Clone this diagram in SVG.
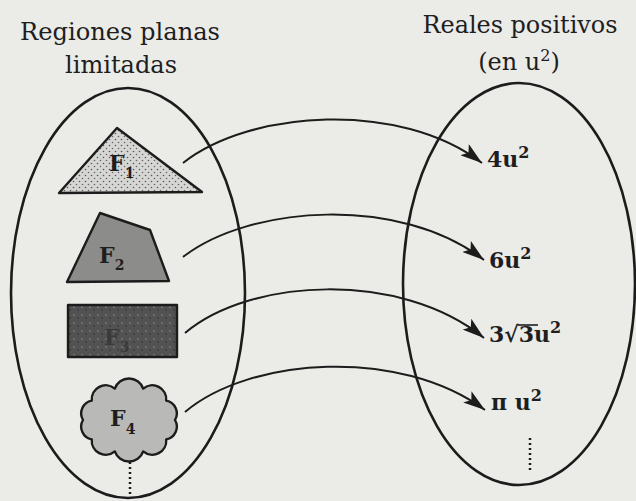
<svg xmlns="http://www.w3.org/2000/svg" width="636" height="501" viewBox="0 0 636 501">
  <style>
    .title { font-family: "DejaVu Serif", "Liberation Serif", serif; font-size: 24px; fill: #1e1e1e; }
    .val { font-family: "DejaVu Serif", "Liberation Serif", serif; font-size: 22px; font-weight: bold; fill: #1e1e1e; }
    .flab { font-family: "DejaVu Serif", "Liberation Serif", serif; font-size: 22px; font-weight: bold; fill: #1e1e1e; }
    .set { fill: none; stroke: #1c1c1c; stroke-width: 2.6; }
    .shape { stroke: #1c1c1c; stroke-width: 2.4; stroke-linejoin: round; }
    .arrow { fill: none; stroke: #1c1c1c; stroke-width: 2; marker-end: url(#ah); }
    .dots { stroke: #1c1c1c; stroke-width: 2.5; stroke-dasharray: 2 3; }
  </style>
  <defs>
    <marker id="ah" markerUnits="userSpaceOnUse" markerWidth="24" markerHeight="14" refX="22" refY="7" orient="auto">
      <path d="M0,0 L22,7 L0,14 L5,7 z" fill="#1c1c1c"/>
    </marker>
    <pattern id="stipple" width="6" height="6" patternUnits="userSpaceOnUse">
      <rect width="6" height="6" fill="#d6d6d4"/>
      <circle cx="1.5" cy="1.5" r="0.8" fill="#555"/>
      <circle cx="4.5" cy="4.5" r="0.8" fill="#666"/>
    </pattern>
    <pattern id="dark" width="8" height="8" patternUnits="userSpaceOnUse">
      <rect width="8" height="8" fill="#525252"/>
      <circle cx="2" cy="3" r="1.2" fill="#6a6a6a"/>
      <circle cx="6" cy="6" r="1" fill="#3e3e3e"/>
    </pattern>
  </defs>
  <rect width="636" height="501" fill="#ebebe8"/>

  <g id="left-set">
    <text class="title" x="120" y="40" text-anchor="middle" textLength="200" lengthAdjust="spacingAndGlyphs">Regiones planas</text>
    <text class="title" x="121" y="73" text-anchor="middle" textLength="112" lengthAdjust="spacingAndGlyphs">limitadas</text>
    <ellipse class="set" cx="128" cy="293" rx="117" ry="205"/>
  </g>

  <g id="right-set">
    <text class="title" x="520" y="33" text-anchor="middle" textLength="195" lengthAdjust="spacingAndGlyphs">Reales positivos</text>
    <text class="title" x="519" y="70" text-anchor="middle">(en u<tspan dy="-9" font-size="16">2</tspan><tspan dy="9">)</tspan></text>
    <ellipse class="set" cx="519" cy="284" rx="116" ry="201"/>
  </g>

  <g id="F1">
    <polygon class="shape" points="117,128 59,193 202,192" fill="url(#stipple)"/>
    <text class="flab" x="109" y="171">F<tspan dy="7" font-size="14">1</tspan></text>
  </g>

  <g id="F2">
    <polygon class="shape" points="100,213 150,230 169,281 67,282" fill="#8c8c8a"/>
    <text class="flab" x="99" y="263">F<tspan dy="7" font-size="14">2</tspan></text>
  </g>

  <g id="F3">
    <rect class="shape" x="68" y="305" width="109" height="52" fill="url(#dark)"/>
    <text class="flab" x="104" y="345" style="fill:#3a3a3a">F<tspan dy="7" font-size="14">3</tspan></text>
  </g>

  <g id="F4">
    <path class="shape" fill="#b9b9b7" d="M175,420 A13,13 0 0 1 166.2,439.4 A14,14 0 0 1 143.2,451.4 A15,15 0 0 1 114.8,451.4 A14,14 0 0 1 91.8,439.4 A13,13 0 0 1 83,420 A13,13 0 0 1 91.8,400.6 A14,14 0 0 1 114.8,388.6 A15,15 0 0 1 143.2,388.6 A14,14 0 0 1 166.2,400.6 A13,13 0 0 1 175,420 z"/>
    <text class="flab" x="110" y="426">F<tspan dy="8" font-size="14">4</tspan></text>
    <line class="dots" x1="130" y1="462" x2="130" y2="496"/>
  </g>

  <g id="values">
    <text class="val" x="487" y="167">4u<tspan dy="-9" font-size="16">2</tspan></text>
    <text class="val" x="489" y="268">6u<tspan dy="-9" font-size="16">2</tspan></text>
    <text class="val" x="489" y="342">3√3u<tspan dy="-9" font-size="16">2</tspan></text>
    <line x1="518" y1="325" x2="538" y2="325" stroke="#1e1e1e" stroke-width="1.6"/>
    <text class="val" x="491" y="410">π u<tspan dy="-9" font-size="16">2</tspan></text>
    <line class="dots" x1="530" y1="438" x2="530" y2="473"/>
  </g>

  <g id="connectors">
    <path class="arrow" d="M183,163 C250,110 400,100 482,163"/>
    <path class="arrow" d="M183,257 C250,205 400,195 484,260"/>
    <path class="arrow" d="M185,333 C250,278 400,270 484,338"/>
    <path class="arrow" d="M185,412 C250,357 400,347 485,410"/>
  </g>
</svg>
